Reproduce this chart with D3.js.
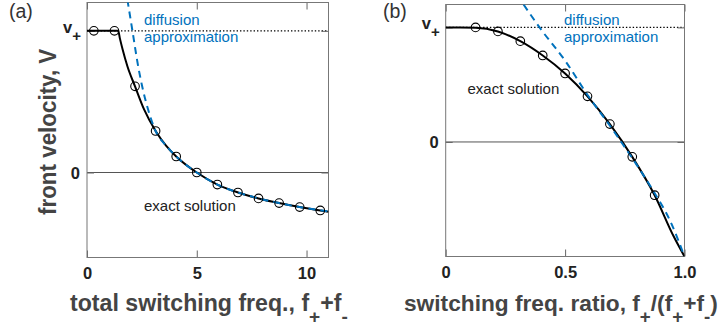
<!DOCTYPE html>
<html>
<head>
<meta charset="utf-8">
<script src="https://cdn.jsdelivr.net/npm/d3@7"></script>
<style>
  body { margin: 0; background: #fff; }
  svg { display: block; font-family: 'Liberation Sans', Arial, sans-serif; }
</style>
</head>
<body>
<div id="svg_container"></div>
<script>
// panel (a): velocity vs total switching frequency
var aCircX = [0.3125, 1.25, 2.1875, 3.125, 4.0625, 5, 5.9375, 6.875, 7.8125, 8.75, 9.6875, 10.625];
var aCircV = [1, 1, 0.608, 0.293, 0.113, 0, -0.085, -0.141, -0.183, -0.216, -0.244, -0.268];
var aExactX = [0, 0.3125, 1.25, 1.42, 1.5, 1.62, 1.84, 2.1875, 2.6, 3.125, 3.6, 4.0625, 5, 5.9375, 6.875, 7.8125, 8.75, 9.6875, 10.625, 11];
var aExactV = [1, 1, 1, 1, 0.945, 0.87, 0.75, 0.608, 0.445, 0.293, 0.19, 0.113, 0, -0.085, -0.141, -0.183, -0.216, -0.244, -0.268, -0.277];
var aDiffX = [1.84, 2.07, 2.33, 2.51, 2.78, 3.125, 3.6, 4.0625, 5, 6, 7, 8, 9, 10, 11];
var aDiffV = [1.22, 1.0, 0.75, 0.61, 0.446, 0.293, 0.19, 0.113, 0, -0.09, -0.147, -0.19, -0.224, -0.252, -0.274];
var aTicks = [0, 5, 10];

// panel (b): velocity vs switching frequency ratio
var bCircX = [0.125, 0.21875, 0.3125, 0.40625, 0.5, 0.59375, 0.6875, 0.78125, 0.875];
var bCircV = [1.0, 0.965, 0.88, 0.755, 0.598, 0.398, 0.156, -0.13, -0.465];
var bExactX = [0, 0.06, 0.125, 0.21875, 0.3125, 0.40625, 0.5, 0.59375, 0.6875, 0.78125, 0.875, 0.955, 1];
var bExactV = [1, 1, 0.998, 0.965, 0.88, 0.755, 0.598, 0.398, 0.156, -0.13, -0.465, -0.826, -1];
var bDiffX = [0.326, 0.4, 0.5, 0.594, 0.69, 0.735, 0.8, 0.87, 0.94, 1];
var bDiffV = [1.2, 0.98, 0.71, 0.41, 0.135, 0.0, -0.2, -0.43, -0.69, -1];
var bTicks = [0, 0.5, 1.0];
var bTickLabels = ['0', '0.5', '1.0'];

var width = 720, height = 328;
var blue = '#0072BD';

var svg = d3.select('#svg_container')
  .append('svg')
    .attr('width', width)
    .attr('height', height);

function zip(xs, ys) {
  return xs.map(function(x, i) { return [x, ys[i]]; });
}

function drawPanel(p) {
  var x = d3.scaleLinear().domain(p.xDomain).range([p.left, p.right]);
  var y = d3.scaleLinear().domain(p.yDomain).range([p.bottom, p.top]);
  var g = svg.append('g');

  g.append('clipPath').attr('id', 'clip' + p.id)
    .append('rect')
      .attr('x', p.left).attr('y', p.top)
      .attr('width', p.right - p.left).attr('height', p.bottom - p.top);

  // zero line and v+ dotted line
  g.append('line')
    .attr('x1', p.left).attr('x2', p.right)
    .attr('y1', y(0)).attr('y2', y(0))
    .attr('stroke', '#555').attr('stroke-width', 1);
  g.append('line')
    .attr('x1', p.left).attr('x2', p.right)
    .attr('y1', y(1)).attr('y2', y(1))
    .attr('stroke', '#000').attr('stroke-width', 1.4)
    .attr('stroke-dasharray', '1.4,2');

  // inward ticks on all four sides
  g.append('g')
      .attr('transform', 'translate(0,' + p.bottom + ')')
      .call(d3.axisBottom(x).tickValues(p.ticks).tickSize(-7).tickPadding(10)
        .tickFormat(function(d, i) { return p.tickLabels[i]; }))
      .call(function(a) {
        a.select('.domain').remove();
        a.selectAll('line').attr('stroke', '#666');
        a.selectAll('text').attr('font-family', 'Liberation Sans, Arial, sans-serif')
          .attr('font-size', 16.5).attr('font-weight', 'bold').attr('fill', '#222');
      });
  g.append('g')
      .attr('transform', 'translate(0,' + p.top + ')')
      .call(d3.axisTop(x).tickValues(p.ticks).tickSize(-7).tickFormat(''))
      .call(function(a) { a.select('.domain').remove(); a.selectAll('line').attr('stroke', '#666'); });
  g.append('g')
      .attr('transform', 'translate(' + p.left + ',0)')
      .call(d3.axisLeft(y).tickValues([0, 1]).tickSize(-7).tickFormat(''))
      .call(function(a) { a.select('.domain').remove(); a.selectAll('line').attr('stroke', '#666'); });
  g.append('g')
      .attr('transform', 'translate(' + p.right + ',0)')
      .call(d3.axisRight(y).tickValues([0, 1]).tickSize(-7).tickFormat(''))
      .call(function(a) { a.select('.domain').remove(); a.selectAll('line').attr('stroke', '#666'); });

  // box
  g.append('rect')
    .attr('x', p.left).attr('y', p.top)
    .attr('width', p.right - p.left).attr('height', p.bottom - p.top)
    .attr('fill', 'none').attr('stroke', '#777').attr('stroke-width', 1);

  // y tick labels
  g.append('text')
    .attr('x', p.left - 7).attr('y', y(0) + 6)
    .attr('text-anchor', 'end')
    .attr('font-size', 16.5).attr('font-weight', 'bold').attr('fill', '#222')
    .text('0');
  var vp = g.append('text')
    .attr('x', p.left - 6).attr('y', y(1) + 2)
    .attr('text-anchor', 'end')
    .attr('font-size', 16.5).attr('font-weight', 'bold').attr('fill', '#222');
  vp.append('tspan').text('v');
  vp.append('tspan').attr('dy', 8).attr('font-size', 15).text('+');

  var line = d3.line()
    .x(function(d) { return x(d[0]); })
    .y(function(d) { return y(d[1]); })
    .curve(d3.curveMonotoneX);

  g.append('path')
    .datum(zip(p.exactX, p.exactV))
    .attr('clip-path', 'url(#clip' + p.id + ')')
    .attr('fill', 'none').attr('stroke', '#000').attr('stroke-width', 2)
    .attr('d', line);

  g.append('path')
    .datum(zip(p.diffX, p.diffV))
    .attr('clip-path', 'url(#clip' + p.id + ')')
    .attr('fill', 'none').attr('stroke', blue).attr('stroke-width', 2)
    .attr('stroke-dasharray', '7,5')
    .attr('d', line);

  g.selectAll('circle.pt')
    .data(zip(p.circX, p.circV))
    .enter().append('circle')
      .attr('class', 'pt')
      .attr('cx', function(d) { return x(d[0]); })
      .attr('cy', function(d) { return y(d[1]); })
      .attr('r', 4.3)
      .attr('fill', 'none').attr('stroke', '#000').attr('stroke-width', 1.1);

  // annotations
  g.append('text')
    .attr('x', p.diffLabelX).attr('y', 25)
    .attr('font-size', 15).attr('fill', blue)
    .text('diffusion');
  g.append('text')
    .attr('x', p.diffLabelX).attr('y', 42)
    .attr('font-size', 15).attr('fill', blue)
    .text('approximation');
  g.append('text')
    .attr('x', p.exactLabelX).attr('y', p.exactLabelY)
    .attr('font-size', 15).attr('fill', '#222')
    .text('exact solution');

  g.append('text')
    .attr('x', p.panelX).attr('y', 18)
    .attr('font-size', 19.5).attr('fill', '#333')
    .text(p.panelLabel);
}

// axis title built from pieces, subscripts shifted down, fitted to a width
function title(parts, x0, y0, target, rotate) {
  var t = svg.append('text')
    .attr('font-size', 23).attr('font-weight', 'bold').attr('fill', '#444');
  var shift = 0;
  parts.forEach(function(pt) {
    var s = t.append('tspan').text(pt[0]);
    var want = pt[1] ? 12 : 0;
    if (want !== shift) { s.attr('dy', want - shift); shift = want; }
    if (pt[1]) s.attr('font-size', 19);
  });
  var w = t.node().getBBox().width;
  t.attr('transform', 'translate(' + x0 + ',' + y0 + ')' + (rotate ? ' rotate(-90)' : '') +
    ' scale(' + (target / w) + ',1)');
}

drawPanel({
  id: 'a', left: 87, right: 328.5, top: 2.5, bottom: 257.5,
  xDomain: [0, 11], yDomain: [-0.6, 1.2],
  ticks: aTicks, tickLabels: aTicks.map(String),
  exactX: aExactX, exactV: aExactV, diffX: aDiffX, diffV: aDiffV,
  circX: aCircX, circV: aCircV,
  diffLabelX: 144, exactLabelX: 144, exactLabelY: 211,
  panelX: 9, panelLabel: '(a)'
});

drawPanel({
  id: 'b', left: 445.7, right: 684.5, top: 4.5, bottom: 256.5,
  xDomain: [0, 1], yDomain: [-1, 1.2],
  ticks: bTicks, tickLabels: bTickLabels,
  exactX: bExactX, exactV: bExactV, diffX: bDiffX, diffV: bDiffV,
  circX: bCircX, circV: bCircV,
  diffLabelX: 564, exactLabelX: 467.5, exactLabelY: 94,
  panelX: 383, panelLabel: '(b)'
});

title([['front velocity, V', false]], 56, 215, 167, true);
title([['total switching freq.,  f', false], ['+', true], ['+f', false], ['-', true]], 70, 311, 278, false);
title([['switching freq. ratio, f', false], ['+', true], ['/(f', false], ['+', true], ['+f', false], ['-', true], [')', false]], 404, 311, 314, false);
</script>
</body>
</html>
